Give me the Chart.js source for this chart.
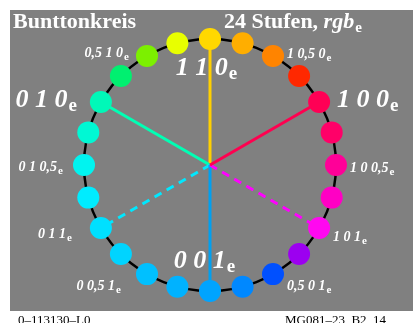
<!DOCTYPE html>
<html>
<head>
<meta charset="utf-8">
<script src="https://cdn.jsdelivr.net/npm/chart.js@4"></script>
<style>
  html, body { margin: 0; padding: 0; background: #fff; }
  #wrap { position: relative; width: 413px; height: 323px; }
</style>
</head>
<body>
<div id="wrap"><canvas id="hueChart" width="413" height="323"></canvas></div>
<script>
// 24 hue steps, clockwise starting at 1 0 0 (elementary red)
const stepNames = ['1 0 0', '', '1 0 0,5', '', '1 0 1', '', '0,5 0 1', '', '0 0 1', '', '0 0,5 1', '',
                   '0 1 1', '', '0 1 0,5', '', '0 1 0', '', '0,5 1 0', '', '1 1 0', '', '1 0,5 0', ''];
const stepColors = ['#ff0055', '#ff0068', '#ff0098', '#ff00c4', '#ff08f0', '#9c00f0', '#0050ff', '#0088ff',
                    '#00a4ff', '#00b2ff', '#00c0ff', '#00d4ff', '#00e0ff', '#00ecff', '#00f4f0', '#00f8d4',
                    '#00f8b8', '#00f070', '#7cf000', '#e8ff00', '#ffd800', '#ffae00', '#ff8400', '#ff2800'];
const stepRadius = [1, 1, 1, 1, 1, 1, 1, 1, 1, 1, 1, 1, 1, 1, 1, 1, 1, 1, 1, 1, 1, 1, 1, 1];
// spokes from the centre to the six main hues
const spokeColors = ['#ff0050', null, null, null, '#ff00ff', null, null, null, '#00a0f0', null, null, null,
                     '#00e8ff', null, null, null, '#00ffb4', null, null, null, '#ffd000', null, null, null];
const dashedSpokes = [4, 12];
const bigLabels = [0, 8, 16, 20];

const serif = '"Liberation Serif", "Times New Roman", serif';

// text with a subscript e
function drawE(ctx, text, x, y, align, mainFont, subFont, drop) {
    ctx.font = mainFont;
    const w1 = ctx.measureText(text).width;
    ctx.font = subFont;
    const w2 = ctx.measureText('e').width;
    let x0 = x;
    if (align === 'right') x0 = x - w1 - w2;
    if (align === 'center') x0 = x - (w1 + w2) / 2;
    ctx.textAlign = 'left';
    ctx.textBaseline = 'alphabetic';
    ctx.font = mainFont;
    ctx.fillText(text, x0, y);
    ctx.font = subFont;
    ctx.fillText('e', x0 + w1 + 1, y + drop);
}

const background = {
    id: 'background',
    beforeDraw(chart) {
        const ctx = chart.ctx;
        ctx.save();
        ctx.fillStyle = '#ffffff';
        ctx.fillRect(0, 0, chart.width, chart.height);
        ctx.fillStyle = '#808080';
        ctx.fillRect(10, 10, chart.width - 10, 301);
        ctx.restore();
    }
};

const stepLabels = {
    id: 'stepLabels',
    afterDatasetsDraw(chart) {
        const ctx = chart.ctx;
        const r = chart.scales.r;
        ctx.save();
        ctx.fillStyle = '#ffffff';
        const bigFont = 'italic bold 26px ' + serif;
        const bigSub = 'bold 19px ' + serif;
        const smallFont = 'italic bold 14px ' + serif;
        const smallSub = 'bold 11px ' + serif;
        stepNames.forEach((name, i) => {
            if (!name) return;
            const p = r.getPointPosition(i, r.drawingArea);
            const big = bigLabels.includes(i);
            const f = big ? bigFont : smallFont;
            const s = big ? bigSub : smallSub;
            const drop = big ? 4 : 3;
            if (i === 20) {
                drawE(ctx, name, p.x - 4, p.y + 36, 'center', f, s, drop);
            } else if (i === 8) {
                drawE(ctx, name, p.x - 6, p.y - 23, 'center', f, s, drop);
            } else if (p.x > r.xCenter) {
                const dx = big ? 18 : 14;
                const dy = {0: 5, 2: 7, 4: 13, 6: 16, 22: 2}[i];
                drawE(ctx, name, p.x + dx, p.y + dy, 'left', f, s, drop);
            } else {
                const dx = {10: 27, 12: 30, 14: 22, 16: 25, 18: 19}[i];
                const dy = {10: 16, 12: 10, 14: 6, 16: 5, 18: 1}[i];
                drawE(ctx, name, p.x - dx, p.y + dy, 'right', f, s, drop);
            }
        });

        // titles
        ctx.textAlign = 'left';
        ctx.textBaseline = 'alphabetic';
        ctx.font = 'bold 22px ' + serif;
        ctx.fillText('Bunttonkreis', 13, 28);
        const t1 = '24 Stufen, ';
        ctx.fillText(t1, 224, 28);
        let x = 224 + ctx.measureText(t1).width;
        drawE(ctx, 'rgb', x, 28, 'left', 'italic bold 22px ' + serif, 'bold 15px ' + serif, 4);

        // footer
        ctx.fillStyle = '#000000';
        ctx.font = '13px ' + serif;
        ctx.fillText('0\u2013113130\u2013L0', 18, 324);
        ctx.fillText('MG081\u201323, B2_14', 285, 324);
        ctx.restore();
    }
};

new Chart(document.getElementById('hueChart'), {
    type: 'radar',
    data: {
        labels: stepNames,
        datasets: [{
            data: stepRadius,
            pointBackgroundColor: stepColors,
            pointBorderWidth: 0,
            pointRadius: 11,
            pointHoverRadius: 11,
            borderWidth: 0,
            borderColor: 'transparent',
            backgroundColor: 'transparent',
            showLine: false,
            fill: false,
            clip: false
        }]
    },
    options: {
        responsive: false,
        animation: false,
        events: [],
        layout: { padding: { left: 84, top: 39, right: 77, bottom: 32 } },
        plugins: { legend: { display: false }, tooltip: { enabled: false } },
        scales: {
            r: {
                min: 0,
                max: 1,
                startAngle: 60,
                ticks: { display: false, stepSize: 1 },
                pointLabels: { display: false },
                grid: { circular: true, color: '#000000', lineWidth: 2.5 },
                angleLines: {
                    color: ctx => spokeColors[ctx.index] || 'transparent',
                    lineWidth: ctx => spokeColors[ctx.index] ? 3 : 0,
                    borderDash: ctx => dashedSpokes.includes(ctx.index) ? [8, 6] : []
                }
            }
        }
    },
    plugins: [background, stepLabels]
});
</script>
</body>
</html>
